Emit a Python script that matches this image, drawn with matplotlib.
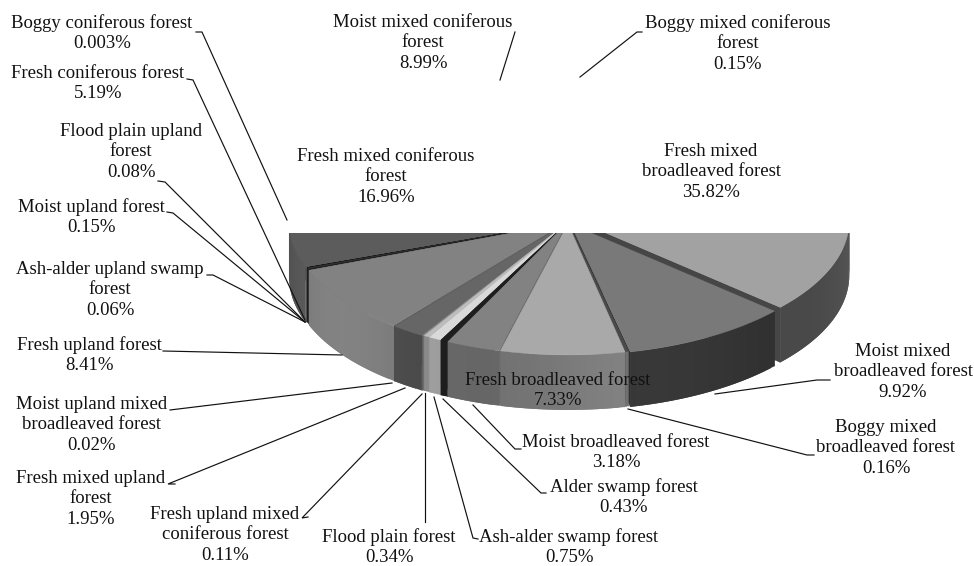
import numpy as np
import matplotlib
matplotlib.use("Agg")
import matplotlib.pyplot as plt
from matplotlib.patches import Polygon, Rectangle

plt.rcParams["font.family"] = ["Liberation Serif", "DejaVu Serif"]

# shares go clockwise from 12 o'clock
forest_types = [
    "Fresh mixed\nbroadleaved forest", "Moist mixed\nbroadleaved forest",
    "Boggy mixed\nbroadleaved forest", "Fresh broadleaved forest",
    "Moist broadleaved forest", "Alder swamp forest",
    "Ash-alder swamp forest", "Flood plain forest",
    "Fresh upland mixed\nconiferous forest", "Fresh mixed upland\nforest",
    "Moist upland mixed\nbroadleaved forest", "Fresh upland forest",
    "Ash-alder upland swamp\nforest", "Moist upland forest",
    "Flood plain upland\nforest", "Fresh coniferous forest",
    "Boggy coniferous forest", "Fresh mixed coniferous\nforest",
    "Moist mixed coniferous\nforest", "Boggy mixed coniferous\nforest",
]
shares = [35.82, 9.92, 0.16, 7.33, 3.18, 0.43, 0.75, 0.34, 0.11, 1.95,
          0.02, 8.41, 0.06, 0.15, 0.08, 5.19, 0.003, 16.96, 8.99, 0.15]
share_text = ["35.82%", "9.92%", "0.16%", "7.33%", "3.18%", "0.43%", "0.75%",
              "0.34%", "0.11%", "1.95%", "0.02%", "8.41%", "0.06%", "0.15%",
              "0.08%", "5.19%", "0.003%", "16.96%", "8.99%", "0.15%"]

top_colors = ["#a2a2a2", "#797979", "#4a4a4a", "#a9a9a9", "#828282", "#1e1e1e",
              "#d9d9d9", "#bdbdbd", "#8a8a8a", "#666666", "#777777", "#828282",
              "#222222", "#333333", "#111111", "#5c5c5c", "#444444", "#5c5c5c",
              "#777777", "#555555"]
wall_colors = ["#4e4e4e", "#343434", "#6a6a6a", "#7a7a7a", "#6e6e6e", "#202020",
               "#a5a5a5", "#8f8f8f", "#6f6f6f", "#4c4c4c", "#5a5a5a", "#7a7a7a",
               "#222222", "#333333", "#111111", "#585858", "#444444", "#555555",
               "#666666", "#555555"]
explode = [9, 5, 3, 4, 4, 4, 4, 4, 4, 5, 4, 5, 4, 4, 4, 6, 4, 6, 6, 6]

# label centre x, y of first line, leader line as (x, y) points
label_pos = [(711, 152), (903, 352), (886, 428), (558, 381), (616, 443),
             (624, 487), (569, 537), (389, 537), (225, 515), (91, 479),
             (92, 405), (89, 345), (110, 270), (91, 207), (131, 132),
             (98, 74), (102, 23), (386, 157), (423, 23), (738, 23)]
leaders = [None,
           [(830, 380), (817, 380), (715, 394)],
           [(814, 455), (807, 455), (628, 409)],
           None,
           [(521, 449), (515, 449), (473, 405)],
           [(546, 493), (541, 493), (443, 399)],
           [(478, 539), (473, 538), (434, 397)],
           [(425, 522), (425, 393)],
           [(308, 517), (302, 518), (422, 394)],
           [(175, 484), (168, 484), (405, 388)],
           [(170, 410), (392, 383)],
           [(163, 351), (342, 355)],
           [(207, 275), (213, 275), (305, 322)],
           [(167, 212), (173, 213), (305, 322)],
           [(158, 181), (165, 182), (305, 322)],
           [(187, 79), (193, 80), (305, 320)],
           [(196, 32), (202, 32), (287, 220)],
           None,
           [(515, 32), (500, 80)],
           [(642, 32), (637, 32), (580, 77)]]

cx, cy = 568, 222
rx, ry = 273, 131
depth = 55
cut_y = 233
start_angle = np.deg2rad(2.7)


def shade(color, k):
    rgb = np.array(matplotlib.colors.to_rgb(color)) * k
    return tuple(np.clip(rgb, 0, 1))


fig = plt.figure(figsize=(9.74, 5.66), dpi=100)
ax = fig.add_axes([0, 0, 1, 1])
ax.set_xlim(0, 974)
ax.set_ylim(566, 0)
ax.axis("off")

clip = Rectangle((0, cut_y), 974, 566 - cut_y, transform=ax.transData)


def add(poly_pts, color, z, lw=0.3):
    p = Polygon(poly_pts, closed=True, facecolor=color, edgecolor=color,
                linewidth=lw, zorder=z)
    ax.add_patch(p)
    p.set_clip_path(clip)


edges = np.concatenate([[0], np.cumsum(shares)]) / np.sum(shares) * 2 * np.pi
edges = edges + start_angle
mids = (edges[:-1] + edges[1:]) / 2
order = np.argsort(-np.cos(mids))  # back to front

z = 2
for i in order:
    a0, a1 = edges[i], edges[i + 1]
    ox = cx + explode[i] * np.sin(mids[i])
    oy = cy - explode[i] * np.cos(mids[i]) * ry / rx
    ang = np.linspace(a0, a1, max(3, int((a1 - a0) / 0.02)))
    xs = ox + rx * np.sin(ang)
    ys = oy - ry * np.cos(ang)
    # radial side faces
    for j in (0, -1):
        add([(ox, oy), (xs[j], ys[j]), (xs[j], ys[j] + depth), (ox, oy + depth)],
            shade(wall_colors[i], 0.9), z)
        z += 1
    # rim in overlapping strips for a soft shading without seams
    for j in range(len(ang) - 1):
        k = 1 + 0.07 * np.sin(ang[j] * 5)
        end = min(j + 2, len(ang) - 1)
        add([(xs[j], ys[j]), (xs[end], ys[end]),
             (xs[end], ys[end] + depth), (xs[j], ys[j] + depth)],
            shade(wall_colors[i], k), z, lw=0)
        z += 1
    add(list(zip(xs, ys)) + [(ox, oy)], top_colors[i], z)
    z += 1

for name, val, (lx, ly), pts in zip(forest_types, share_text, label_pos, leaders):
    txt = name + "\n" + val
    ax.text(lx, ly - 9, txt, ha="center", va="top", fontsize=13.5,
            linespacing=1.26, color="#111111", zorder=z + 2)
    if pts:
        ax.plot([p[0] for p in pts], [p[1] for p in pts], color="#111111",
                lw=0.85, zorder=z + 1, solid_joinstyle="miter")

fig.savefig("out.png", dpi=100)
